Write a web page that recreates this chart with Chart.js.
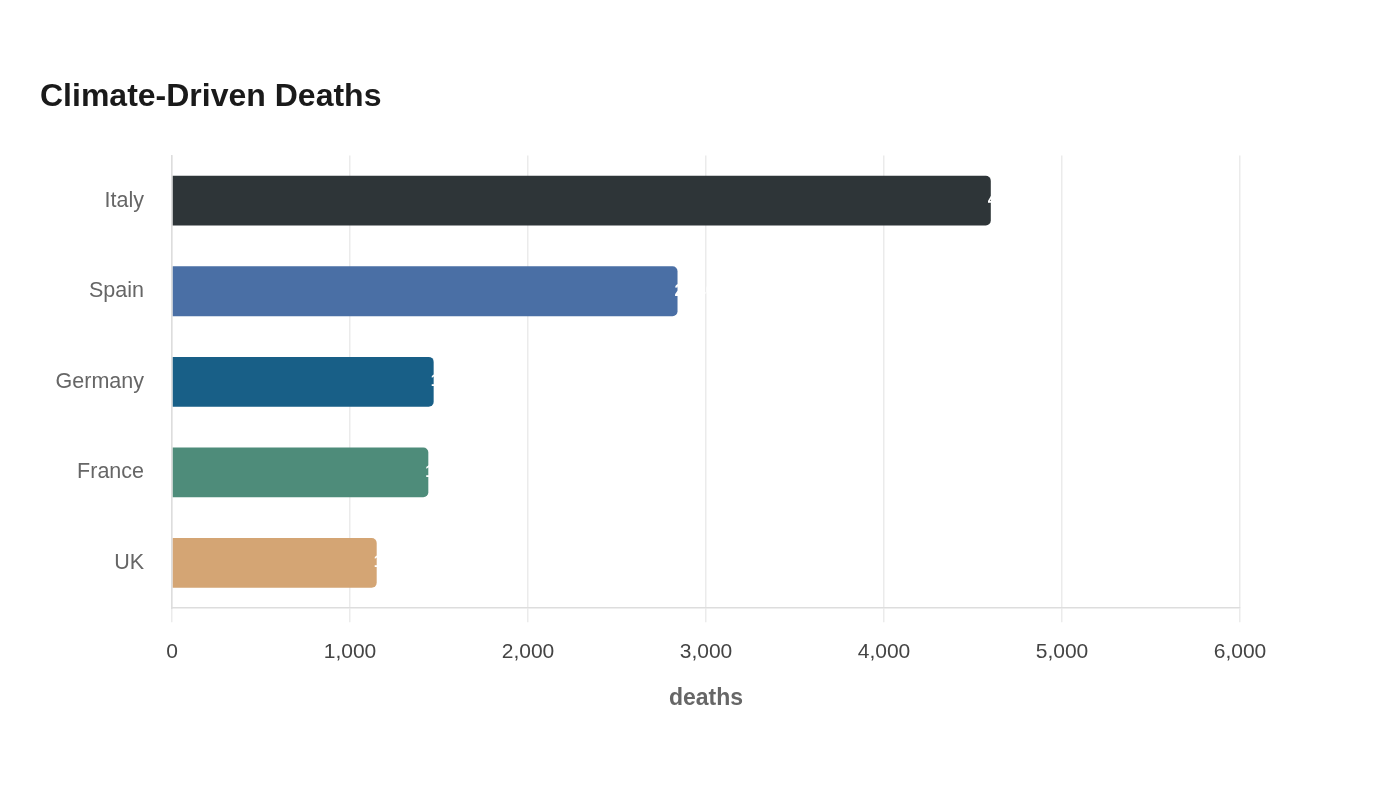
<!DOCTYPE html>
<html>
<head>
<meta charset="utf-8">
<script src="https://cdn.jsdelivr.net/npm/chart.js@4/dist/chart.umd.min.js"></script>
<style>
  html, body { margin: 0; padding: 0; background: #fff; }
  #wrap { width: 1400px; height: 800px; }
</style>
</head>
<body>
<div id="wrap"><canvas id="deathsChart"></canvas></div>
<script>
var countries = ["Italy", "Spain", "Germany", "France", "UK"];
var deaths = [4600, 2840, 1470, 1440, 1150];
var barColors = ["#2e3538", "#4a6fa5", "#185f87", "#4e8c7a", "#d4a574"];
var xTicks = [0, 1000, 2000, 3000, 4000, 5000, 6000];

// white value labels at the bar ends (mostly lost on the white background)
var endLabels = {
  id: "endLabels",
  afterDatasetsDraw: function(chart) {
    var ctx = chart.ctx;
    var meta = chart.getDatasetMeta(0);
    ctx.save();
    ctx.fillStyle = "#ffffff";
    ctx.font = "bold 16px 'Liberation Sans', Arial, sans-serif";
    ctx.textAlign = "left";
    ctx.textBaseline = "middle";
    meta.data.forEach(function(bar, i) {
      ctx.fillText(deaths[i].toLocaleString("en-US"), bar.x - 3, bar.y);
    });
    ctx.restore();
  }
};

var ctx = document.getElementById("deathsChart").getContext("2d");
var chart = new Chart(ctx, {
  type: "bar",
  data: {
    labels: countries,
    datasets: [{
      label: "deaths",
      data: deaths,
      backgroundColor: barColors,
      borderRadius: 5,
      borderSkipped: "start",
      barPercentage: 0.55,
      categoryPercentage: 1
    }]
  },
  options: {
    indexAxis: "y",
    responsive: true,
    maintainAspectRatio: false,
    animation: false,
    layout: { padding: { left: 40, right: 160, top: 78, bottom: 84 } },
    plugins: {
      legend: { display: false },
      tooltip: { enabled: false },
      title: {
        display: true,
        text: "Climate-Driven Deaths",
        align: "start",
        color: "#1a1a1a",
        font: { family: "'Liberation Sans', Arial, sans-serif", size: 32, weight: "bold" },
        padding: { top: 0, bottom: 39 }
      }
    },
    scales: {
      x: {
        min: 0,
        max: 6000,
        afterBuildTicks: function(axis) {
          axis.ticks = xTicks.map(function(v) { return { value: v }; });
        },
        grid: { color: "#ebebeb", lineWidth: 1.5, tickLength: 14 },
        border: { color: "#dddddd", width: 1.5 },
        ticks: {
          color: "#444444",
          padding: 17,
          font: { family: "'Liberation Sans', Arial, sans-serif", size: 21 },
          callback: function(v) { return Number(v).toLocaleString("en-US"); }
        },
        title: {
          display: true,
          text: "deaths",
          color: "#666666",
          font: { family: "'Liberation Sans', Arial, sans-serif", size: 23, weight: "bold" },
          padding: { top: 3 }
        }
      },
      y: {
        afterFit: function(axis) { axis.width = 132; },
        grid: { display: false },
        border: { color: "#dddddd", width: 1.5 },
        ticks: {
          color: "#666666",
          padding: 20,
          font: { family: "'Liberation Sans', Arial, sans-serif", size: 21.5 }
        }
      }
    }
  },
  plugins: [endLabels]
});
</script>
</body>
</html>
